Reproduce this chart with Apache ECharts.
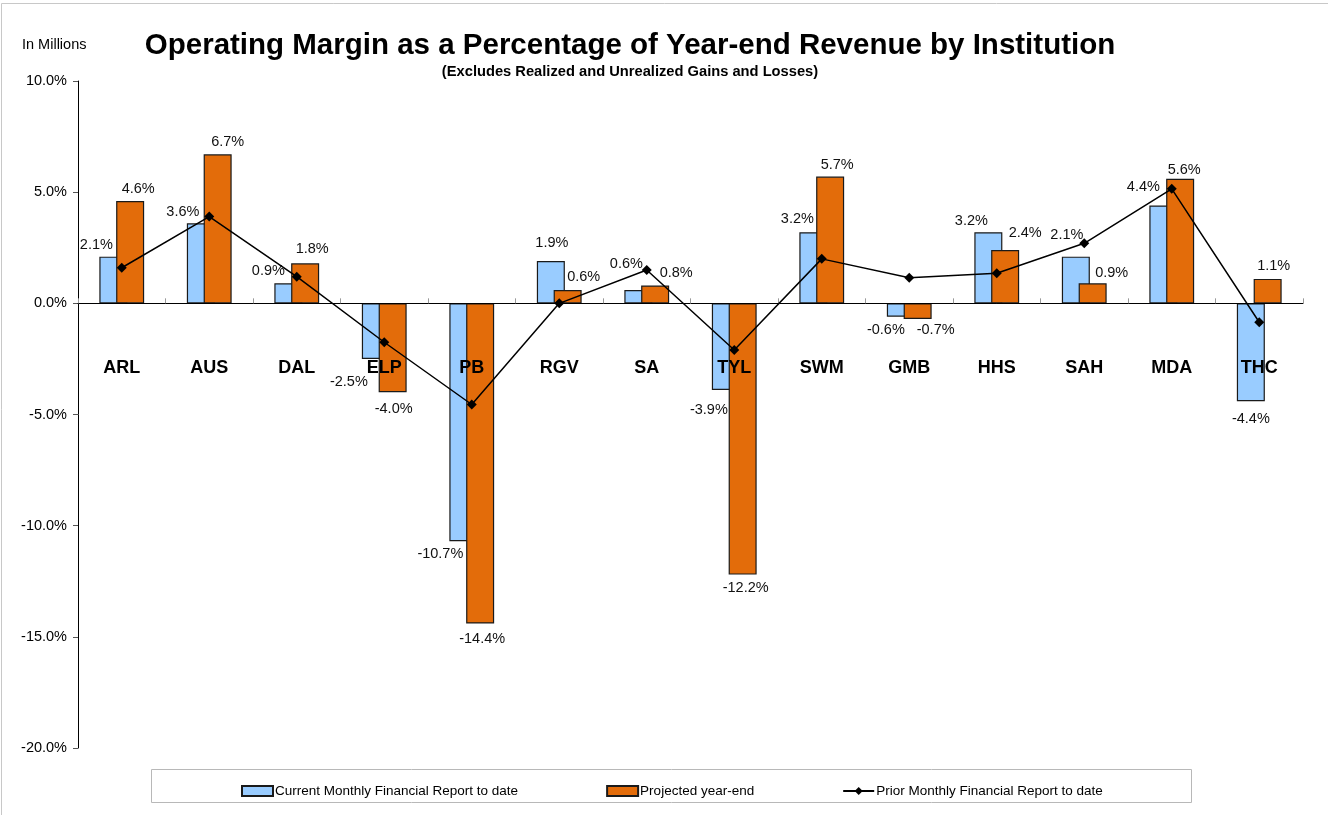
<!DOCTYPE html>
<html>
<head>
<meta charset="utf-8">
<script src="https://cdn.jsdelivr.net/npm/echarts@6/dist/echarts.min.js"></script>
<style>
  html, body { margin: 0; padding: 0; background: #fff; }
  #chart { width: 1328px; height: 815px; }
</style>
</head>
<body>
<div id="chart"></div>
<script>
// Institutions along the category axis
var institutions = ['ARL', 'AUS', 'DAL', 'ELP', 'PB', 'RGV', 'SA', 'TYL', 'SWM', 'GMB', 'HHS', 'SAH', 'MDA', 'THC'];

// Operating margin, % of year-end revenue
var currentMonthly = [2.1, 3.6, 0.9, -2.5, -10.7, 1.9, 0.6, -3.9, 3.2, -0.6, 3.2, 2.1, 4.4, -4.4];
var projectedYearEnd = [4.6, 6.7, 1.8, -4.0, -14.4, 0.6, 0.8, -12.2, 5.7, -0.7, 2.4, 0.9, 5.6, 1.1];
var priorMonthly = [1.6, 3.9, 1.2, -1.75, -4.55, 0.0, 1.5, -2.1, 2.0, 1.15, 1.35, 2.7, 5.15, -0.85];

// Value axis ticks
var yMin = -20, yMax = 10, yStep = 5;

// Hand-placed data label nudges: [dx, gap from bar end to label centre]
var currentLabelNudge = [[-17, 11], [-18, 11], [-20, 12], [-27, 23], [-23, 12], [1, 18], [-12, 25],
  [-17, 19], [-16, 13], [-15, 13], [-17, 11], [-9, 21], [-20, 18], [0, 17]];
var projectedLabelNudge = [[8, 12], [10, 12], [7, 14], [1, 16], [2, 15], [16, 12], [21, 12],
  [3, 13], [7, 11], [18, 11], [20, 16], [19, 10], [4, 8], [6, 12]];

var FONT = 'Arial, "Liberation Sans", Helvetica, sans-serif';

// Plot box
var GRID = { left: 78, right: 25, top: 81, bottom: 67 };
var plotHeight = 815 - GRID.top - GRID.bottom;
// Category axis sits on the zero line
var zeroOffset = -plotHeight * (0 - yMin) / (yMax - yMin);

function pct(v) { return v.toFixed(1) + '%'; }

function withLabels(values, nudges) {
  return values.map(function (v, i) {
    var n = nudges[i];
    var half = 7;
    return {
      value: v,
      label: {
        position: v >= 0 ? 'top' : 'bottom',
        distance: 0,
        offset: [n[0], v >= 0 ? -(n[1] - half) : (n[1] - half)]
      }
    };
  });
}

var chart = echarts.init(document.getElementById('chart'), null, { renderer: 'canvas' });

var valueLabel = {
  show: true,
  formatter: function (p) { return pct(p.value); },
  fontFamily: FONT,
  fontSize: 14.5,
  color: '#111'
};

chart.setOption({
  animation: false,
  backgroundColor: '#fff',
  textStyle: { fontFamily: FONT },
  title: [
    {
      text: 'Operating Margin as a Percentage of Year-end Revenue by Institution',
      left: 625, top: 26, textAlign: 'center',
      textStyle: { fontFamily: FONT, fontSize: 29.5, fontWeight: 'bold', color: '#000' }
    },
    {
      text: '(Excludes Realized and Unrealized Gains and Losses)',
      left: 625, top: 59, textAlign: 'center',
      textStyle: { fontFamily: FONT, fontSize: 14.7, fontWeight: 'bold', color: '#000' }
    },
    {
      text: 'In Millions',
      left: 17, top: 32,
      textStyle: { fontFamily: FONT, fontSize: 14.5, fontWeight: 'normal', color: '#000' }
    }
  ],
  graphic: [
    { type: 'line', shape: { x1: 1.5, y1: 3.5, x2: 1.5, y2: 815 }, style: { stroke: '#c8c8c8', lineWidth: 1 } },
    { type: 'line', shape: { x1: 1.5, y1: 3.5, x2: 1328, y2: 3.5 }, style: { stroke: '#c8c8c8', lineWidth: 1 } },
    { type: 'rect', shape: { x: 151.5, y: 769.5, width: 1040, height: 33 }, style: { fill: 'none', stroke: '#b8b8b8', lineWidth: 1 } }
  ],
  legend: {
    left: 236, top: 779,
    itemGap: 88,
    itemWidth: 31, itemHeight: 10,
    textStyle: { fontFamily: FONT, fontSize: 13.5, color: '#000', padding: [0, 0, 0, -3] },
    data: [
      { name: 'Current Monthly Financial Report to date', icon: 'rect' },
      { name: 'Projected year-end', icon: 'rect' },
      { name: 'Prior Monthly Financial Report to date' }
    ]
  },
  grid: GRID,
  xAxis: {
    type: 'category',
    data: institutions,
    offset: zeroOffset,
    z: 10,
    axisLine: { onZero: false, lineStyle: { color: '#000', width: 1 } },
    axisTick: { show: true, length: 5, inside: true, lineStyle: { color: '#999' } },
    axisLabel: { fontFamily: FONT, fontSize: 18, fontWeight: 'bold', color: '#000', margin: 56 },
    splitLine: { show: false }
  },
  yAxis: {
    type: 'value',
    min: yMin, max: yMax, interval: yStep,
    axisLine: { show: true, lineStyle: { color: '#000', width: 1 } },
    axisTick: { show: true, length: 5, lineStyle: { color: '#555' } },
    axisLabel: { fontFamily: FONT, fontSize: 14.5, color: '#000', margin: 11, formatter: function (v) { return pct(v); } },
    splitLine: { show: false }
  },
  series: [
    {
      name: 'Current Monthly Financial Report to date',
      type: 'bar',
      barWidth: 28,
      barGap: '-40%',
      itemStyle: { color: '#99CCFF', borderColor: '#1a1a1a', borderWidth: 1.2 },
      label: valueLabel,
      data: withLabels(currentMonthly, currentLabelNudge),
      z: 2
    },
    {
      name: 'Projected year-end',
      type: 'bar',
      barWidth: 28,
      barGap: '-40%',
      itemStyle: { color: '#E36C0A', borderColor: '#1a1a1a', borderWidth: 1.2 },
      label: valueLabel,
      data: withLabels(projectedYearEnd, projectedLabelNudge),
      z: 3
    },
    {
      name: 'Prior Monthly Financial Report to date',
      type: 'line',
      symbol: 'diamond',
      symbolSize: 10,
      itemStyle: { color: '#000' },
      lineStyle: { color: '#000', width: 1.5 },
      data: priorMonthly,
      z: 12
    }
  ]
});
</script>
</body>
</html>
